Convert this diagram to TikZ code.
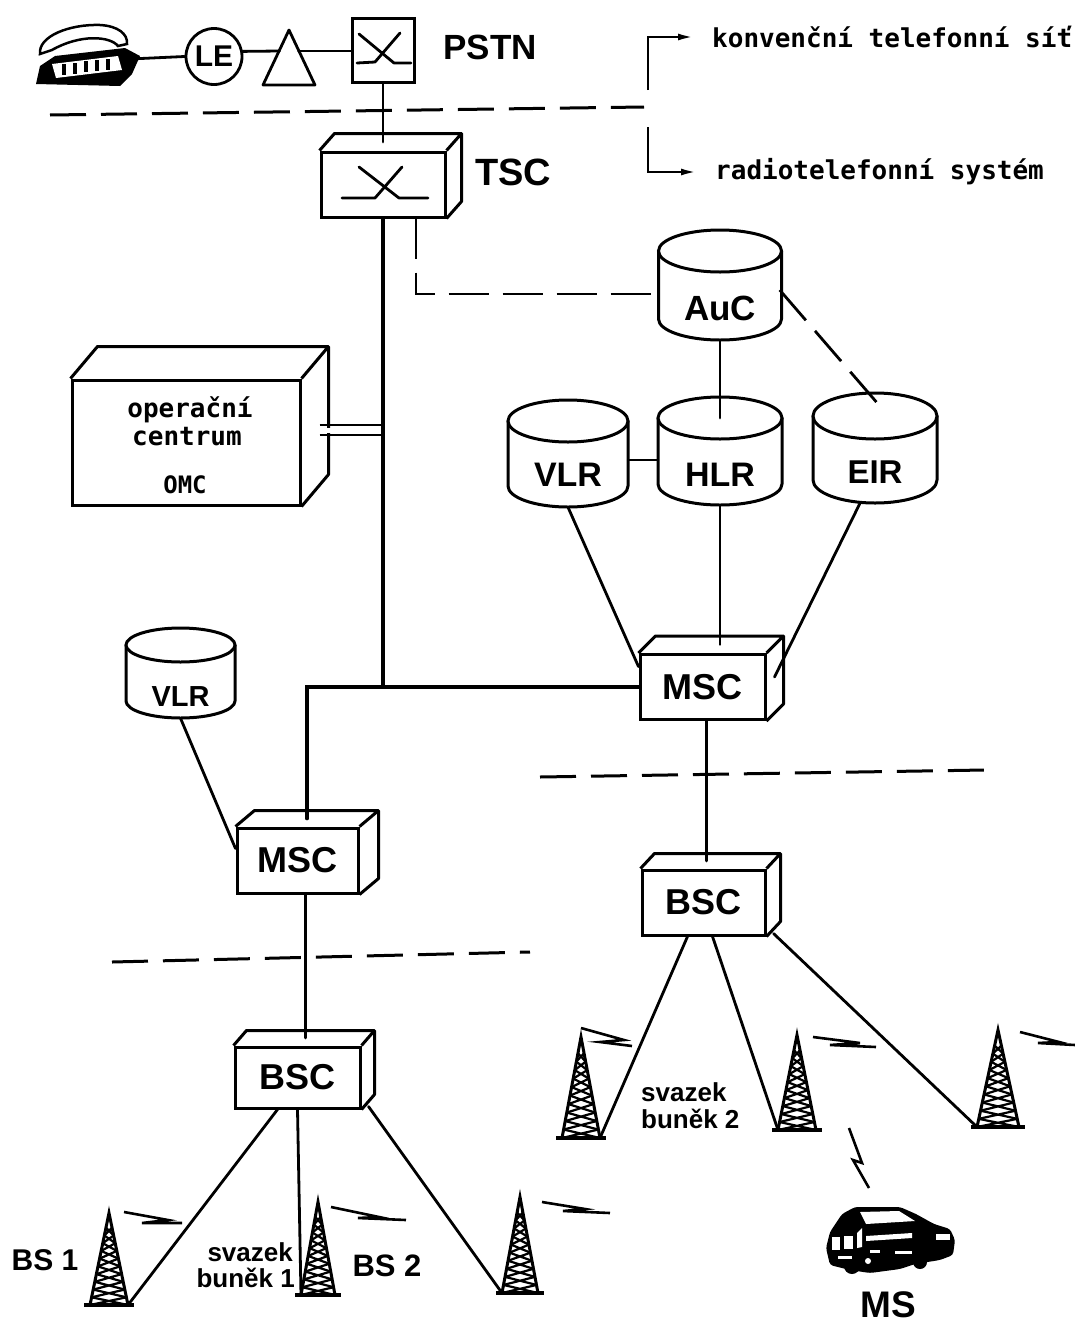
\documentclass[tikz,border=0pt]{standalone}
\usepackage{fontspec}
\setmainfont{Liberation Sans}
\newfontfamily\dotfont{DejaVu Sans Mono}
\usetikzlibrary{calc,arrows.meta}

\tikzset{
  ln/.style={line width=2.8pt, line cap=round, line join=round},
  bbone/.style={line width=3.6pt, line cap=round, line join=miter},
  divider/.style={line width=3pt, dash pattern=on 36pt off 15pt},
  dconn/.style={line width=2.8pt, dash pattern=on 40pt off 14pt},
  edge3d/.style={line width=3pt, line join=round},
  face/.style={draw, line width=3pt, inner sep=0pt, fill=white, font=\bfseries\fontsize{36}{36}\selectfont},
  lbl/.style={inner sep=0pt, font=\bfseries\fontsize{34}{34}\selectfont},
  mono/.style={inner sep=0pt, font=\dotfont\bfseries\fontsize{26}{26}\selectfont},
  arr/.style={line width=2.6pt, -{Latex[length=16pt,width=7pt]}},
  boltln/.style={line width=2.6pt, line join=miter, line cap=butt},
}

% box seen in perspective: name, centre x, centre y, width, height, depth x, depth y, label
\newcommand\boxthree[8]{%
  \node[face, minimum width=#4pt, minimum height=#5pt] (#1) at (#2,#3) {#8};
  \draw[edge3d] (#1.north west) -- ++(#6,-#7) -- ($(#1.north east)+(#6,-#7)$)
     -- ($(#1.south east)+(#6,-#7)$) -- (#1.south east)
     (#1.north east) -- ++(#6,-#7);
  \coordinate (#1-top) at ($(#1.north)+(#6/2,-#7/2)$);
}

% database drum: name, centre x, top ellipse y, bottom ellipse y, x radius, y radius, label, label y, font size
\newcommand\dbcyl[9]{%
  \path[draw, fill=white, line width=3pt, line join=round]
    (#2-#5,#3) -- (#2-#5,#4)
    .. controls (#2-#5,#4+0.552*#6) and (#2-0.552*#5,#4+#6) .. (#2,#4+#6)
    .. controls (#2+0.552*#5,#4+#6) and (#2+#5,#4+0.552*#6) .. (#2+#5,#4)
    -- (#2+#5,#3) -- cycle;
  \draw[fill=white, line width=3pt] (#2,#3) ellipse [x radius=#5, y radius=#6];
  \node[inner sep=0pt, minimum width={2*#5}, minimum height={#4-#3+2*#6}] (#1) at (#2,{(#3+#4)/2}) {};
  \coordinate (#1-top) at (#2,#3);
  \node[inner sep=0pt, font=\bfseries\fontsize{#9}{#9}\selectfont] at (#2,#8) {#7};
}

% lattice mast: name, apex x, apex y, base y, half width of base
\newcommand\tower[5]{%
  \coordinate (#1-apex) at (#2,#3);
  \coordinate (#1-bl) at (#2-#5,#4);
  \coordinate (#1-br) at (#2+#5,#4);
  \draw[line width=3pt, line join=miter] (#1-bl) -- (#1-apex) -- (#1-br);
  \foreach \i in {0,...,9}{%
    \pgfmathsetmacro\ta{0.16+0.084*\i}
    \pgfmathsetmacro\tb{0.16+0.084*(\i+1)}
    \draw[line width=2.2pt] ({#2-\ta*#5},{#3+\ta*(#4-#3)}) -- ({#2+\tb*#5},{#3+\tb*(#4-#3)})
         ({#2+\ta*#5},{#3+\ta*(#4-#3)}) -- ({#2-\tb*#5},{#3+\tb*(#4-#3)});
  }
  \draw[line width=4.5pt] ($(#1-bl)+(-6,0)$) -- ($(#1-br)+(6,0)$);
}

\begin{document}
\begin{tikzpicture}[x=1pt,y=-1pt]
\useasboundingbox (0,0) rectangle (1075,1328);
\fill[white] (0,0) rectangle (1075,1328);

% ---------- subscriber set and fixed network ----------
% telephone set
\fill (36,84) -- (40,66) -- (55,56) -- (125,48) -- (140,56) -- (132,74) -- (120,86) -- cycle;
\draw[line width=2.5pt, fill=white] (40,54) .. controls (38,36) and (70,24) .. (100,25)
   .. controls (118,26) and (128,34) .. (127,44) -- (118,46)
   .. controls (110,36) and (80,34) .. (52,50) -- cycle;
\fill[white] (52,64) -- (118,56) -- (122,70) -- (56,78) -- cycle;
\foreach \k in {0,...,4} \fill (62+11*\k,{64-1.3*\k}) rectangle ++(4,11);
\coordinate (phone) at (130,59);

\node[draw, circle, line width=2.8pt, minimum size=56pt, inner sep=0pt,
      font=\bfseries\fontsize{30}{30}\selectfont] (le) at (214,56.5) {LE};
% amplifier
\draw[ln] (263,85) -- (289,30) -- (315,85) -- cycle;
\coordinate (ampL) at (279.5,51);
\coordinate (ampR) at (298.5,51);

\node[draw, line width=3pt, minimum width=62pt, minimum height=64pt, inner sep=0pt] (pstn) at (383,50) {};
\draw[ln, shift={(pstn.center)}] (-24,-16) -- (11,13) -- (28,13) (17,-17) -- (-8,12) -- (-26,13);
\node[lbl, font=\bfseries\fontsize{35}{35}\selectfont] (pstnT) at (490,47) {PSTN};

\draw[ln] (phone) -- (le.west);
\draw[ln] (le.10) -- (ampL);
\draw[ln] (ampR) -- (pstn.west |- ampR);

% boundary between the two networks
\draw[divider] (50,115) -- (644,107);
\node[mono, anchor=west] (konv) at (712,37) {konvenční telefonní síť};
\node[mono, anchor=west] (radio) at (715,172) {radiotelefonní systém};
\draw[arr] (648,90) |- ([xshift=-18pt]konv.west);
\draw[arr] (648,127) |- ([xshift=-18pt]radio.west);

% ---------- transit exchange ----------
\boxthree{tsc}{383}{184.5}{124}{65}{15}{17}{}
\draw[ln, shift={(tsc.center)}] (-24,-17.5) -- (16,13.5) -- (45,13.5) (19,-17.5) -- (-8,13.5) -- (-41,13.5);
\node[lbl, font=\bfseries\fontsize{38}{38}\selectfont] (tscT) at (513,172) {TSC};
\draw[ln] (pstn.south) -- (pstn.south |- tsc-top);

% ---------- databases ----------
\dbcyl{auc}{720}{251}{319}{61.5}{21}{AuC}{308}{35}
\dbcyl{hlr}{720}{418}{484}{62}{21}{HLR}{475}{34}
\dbcyl{vlrA}{568}{421}{486}{60}{21}{VLR}{475}{34}
\dbcyl{eir}{875}{416}{480}{62}{23}{EIR}{472}{33}
\dbcyl{vlrB}{180.5}{645}{701}{54.5}{17}{VLR}{697}{29}

% ---------- operation centre ----------
\boxthree{omc}{186}{442.5}{228}{125}{27}{32}{}
\node[mono] at (190,410) {operační};
\node[mono] at (187,437) {centrum};
\node[mono, font=\dotfont\bfseries\fontsize{24}{24}\selectfont] at (185,485) {OMC};

% ---------- switching and base station controllers ----------
\boxthree{mscR}{702.5}{687}{125}{65}{17}{17}{MSC}
\boxthree{mscL}{297.5}{860.5}{121}{65}{19}{16}{MSC}
\boxthree{bscR}{703.5}{902.5}{123}{65}{14}{15}{BSC}
\boxthree{bscL}{297.5}{1077.5}{125}{61}{13}{15}{BSC}

% ---------- connections ----------
\draw[bbone] (tsc.south) -- (tsc.south |- mscR.west);
\draw[bbone] (mscR.west) -- (mscL-top |- mscR.west) -- (mscL-top);

\coordinate (oa) at (0,425);
\coordinate (ob) at (0,435);
\fill[white] (323,427.5) rectangle (333,432.5);
\draw[ln, line cap=butt] ($(omc.east |- oa)+(18,0)$) -- (tsc.south |- oa)
                         ($(omc.east |- ob)+(18,0)$) -- (tsc.south |- ob);

\coordinate (tk) at ($(tsc.south)+(33,0)$);
\draw[dconn] (tk) |- ($(auc.west)+(0,9)$);
\draw[dconn] ($(auc.east)+(-2,5)$) -- ($(eir-top)+(10,-4)$);

\draw[ln] (auc.south) -- (auc.south |- hlr-top);
\coordinate (vh) at (0,460);
\draw[ln] (vlrA.east |- vh) -- (hlr.west |- vh);
\draw[ln] (vlrA.south) -- ($(mscR.west)!0.6!(mscR.north west)$);
\draw[ln] (hlr.south) -- (hlr.south |- mscR-top);
\draw[ln] ($(eir.south)+(-15,0)$) -- ($(mscR.east)+(8,-10)$);

\coordinate (m2b) at ($(mscR.south)+(4,0)$);
\draw[ln] (m2b) -- (m2b |- bscR-top);
\draw[ln] (vlrB.south) -- ($(mscL.west)+(0,-12)$);
\coordinate (m2bl) at ($(mscL.south)+(8,0)$);
\draw[ln] (m2bl) -- (m2bl |- bscL-top);

% dividers between the layers
\draw[divider] (540,777) -- (985,770);
\draw[divider] (112,962) -- (530,952);

% ---------- radio sites ----------
\tower{bs1}{109}{1213}{1305}{19}
\tower{bs2}{318}{1202}{1295}{17}
\tower{tt}{520}{1197}{1293}{18}
\tower{ta}{581}{1037}{1138}{19}
\tower{tb}{797}{1035}{1130}{19}
\tower{tc}{998}{1030}{1127}{21}

\draw[ln] ($(bscL.south)+(-20,0)$) -- (bs1-br);
\draw[ln] (bscL.south) -- (bs2-bl);
\draw[ln] ($(bscL.south east)+(7,-3)$) -- (tt-bl);
\draw[ln] ($(bscR.south)+(-16,0)$) -- (ta-br);
\draw[ln] ($(bscR.south)+(9,0)$) -- (tb-bl);
\draw[ln] ($(bscR.south east)+(7,-3)$) -- (tc-bl);

% radio links
\draw[boltln] (124,1212) -- (168,1220) -- (142,1223) -- (182,1223);
\draw[boltln] (331,1207) -- (379,1217) -- (358,1218) -- (406,1220);
\draw[boltln] (542,1202) -- (585,1209) -- (563,1211) -- (610,1213);
\draw[boltln] (581,1028) -- (624,1040) -- (600,1042) -- (632,1046);
\draw[boltln] (813,1037) -- (860,1043) -- (830,1045) -- (876,1047);
\draw[boltln] (1020,1032) -- (1059,1042) -- (1038,1043) -- (1075,1045);
\draw[boltln] (849,1128) -- (862,1163) -- (853,1160) -- (869,1188);

% mobile station (car)
\fill[rounded corners=3pt] (826,1248) -- (830,1232) -- (842,1214) -- (855,1207) -- (900,1207)
  -- (916,1214) -- (934,1224) -- (950,1229) -- (955,1240) -- (953,1255) -- (940,1260)
  -- (915,1264) -- (900,1269) -- (870,1273) -- (850,1270) -- (830,1265) -- cycle;
\fill (852,1266) circle (8);
\fill (920,1262) circle (7);
\fill[white] (860,1212) -- (899,1211) -- (915,1221) -- (866,1224) -- cycle;
\fill[white] (832,1237) rectangle (840,1250);
\fill[white] (844,1236) rectangle (853,1249);
\fill[white] (857,1233) -- (862,1228) -- (862,1247) -- (857,1248) -- cycle;
\fill[white] (866,1236) -- (912,1233) -- (912,1238) -- (866,1241) -- cycle;
\fill[white] (936,1234) rectangle (950,1240);
\fill[white] (870,1250) rectangle (880,1253);
\fill[white] (895,1251) rectangle (912,1254);
\fill[white] (838,1256) rectangle (852,1259);
\fill[white] (868,1261) circle (3);

% ---------- labels ----------
\node[lbl, font=\bfseries\fontsize{30}{30}\selectfont] at (45,1260) {BS 1};
\node[lbl, font=\bfseries\fontsize{31}{31}\selectfont] at (387,1266) {BS 2};
\node[lbl, font=\bfseries\fontsize{26}{26}\selectfont, anchor=east] at (293,1252) {svazek};
\node[lbl, font=\bfseries\fontsize{26}{26}\selectfont, anchor=east] at (295,1278) {buněk 1};
\node[lbl, font=\bfseries\fontsize{26}{26}\selectfont, anchor=west] at (641,1092) {svazek};
\node[lbl, font=\bfseries\fontsize{26}{26}\selectfont, anchor=west] at (641,1119) {buněk 2};
\node[lbl, font=\bfseries\fontsize{37}{37}\selectfont] at (888,1305) {MS};
\end{tikzpicture}
\end{document}
